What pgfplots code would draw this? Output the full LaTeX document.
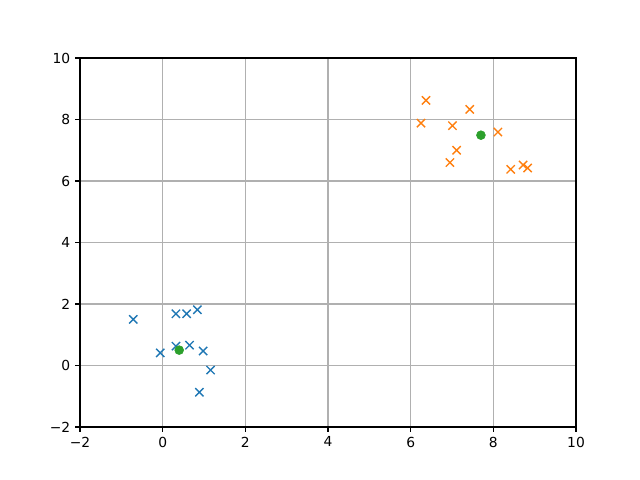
\documentclass[border=0pt]{standalone}
\usepackage{pgfplots}
\pgfplotsset{compat=1.18}
\usepackage{fontspec}
\setmainfont{DejaVu Sans}
\definecolor{tabblue}{HTML}{1F77B4}
\definecolor{taborange}{HTML}{FF7F0E}
\definecolor{tabgreen}{HTML}{2CA02C}
\definecolor{gridgray}{HTML}{B0B0B0}
\begin{document}
\begin{tikzpicture}
\begin{axis}[
 name=ax,
 scale only axis,
 width=357.12bp, height=265.68bp,
 xmin=-2, xmax=10, ymin=-2, ymax=10,
 xtick={-2,0,...,10}, ytick={-2,0,...,10},
 xticklabels={−2,0,2,4,6,8,10},
 yticklabels={−2,0,2,4,6,8,10},
 grid=major,
 major grid style={draw=gridgray, line width=0.8bp},
 axis line style={line width=0.8bp},
 tick style={black, line width=0.8bp},
 tick align=outside, major tick length=3.5bp,
 tick label style={font=\fontsize{10}{12}\selectfont},
 xtick pos=bottom, ytick pos=left,
]
\addplot[only marks, mark=x, mark size=4.2bp, color=tabblue, line width=1bp] coordinates {
 (-0.71,1.50) (-0.06,0.41) (0.32,1.68) (0.58,1.68) (0.84,1.81)
 (0.32,0.63) (0.65,0.66) (0.98,0.47) (1.16,-0.15) (0.89,-0.87)
};
\addplot[only marks, mark=x, mark size=4.2bp, color=taborange, line width=1bp] coordinates {
 (6.37,8.62) (7.43,8.33) (6.25,7.88) (7.01,7.80) (8.11,7.59)
 (7.11,7.00) (6.95,6.60) (8.42,6.38) (8.72,6.52) (8.83,6.42)
};
\addplot[only marks, mark=*, mark size=3.2bp, color=tabgreen] coordinates {
 (0.40,0.50) (7.70,7.49)
};
\end{axis}
\path ([xshift=-57.6bp, yshift=-38.16bp]ax.south west) rectangle ([xshift=46.08bp, yshift=41.76bp]ax.north east);
\end{tikzpicture}
\end{document}
